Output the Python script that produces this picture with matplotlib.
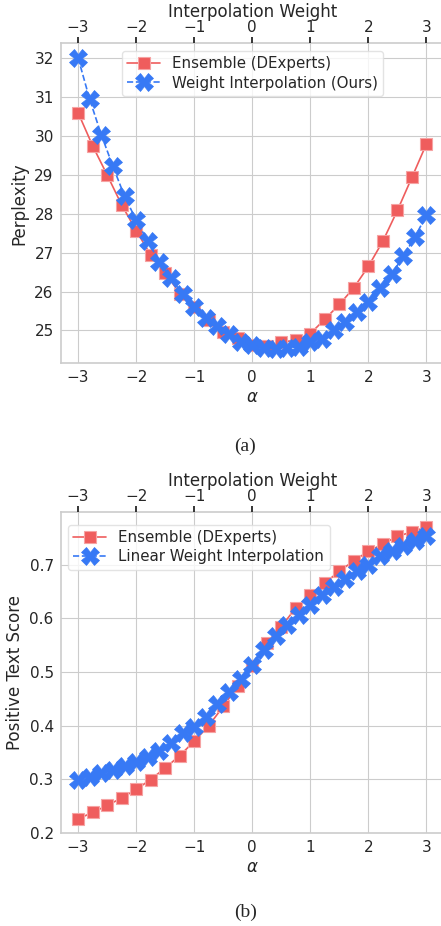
import matplotlib
matplotlib.use("Agg")
import matplotlib.pyplot as plt
import seaborn as sns

# ---- data ----
alpha_ens = [-3.0, -2.75, -2.5, -2.25, -2.0, -1.75, -1.5, -1.25, -1.0, -0.75, -0.5, -0.25,
             0.0, 0.25, 0.5, 0.75, 1.0, 1.25, 1.5, 1.75, 2.0, 2.25, 2.5, 2.75, 3.0]
alpha_wi = [-3.0, -2.8, -2.6, -2.4, -2.2, -2.0, -1.8, -1.6, -1.4, -1.2, -1.0, -0.8, -0.6, -0.4,
            -0.2, 0.0, 0.2, 0.4, 0.6, 0.8, 1.0, 1.2, 1.4, 1.6, 1.8, 2.0, 2.2, 2.4, 2.6, 2.8, 3.0]

ppl_ens = [30.6, 29.75, 29.0, 28.23, 27.57, 26.94, 26.49, 25.95, 25.6, 25.28, 24.97, 24.8,
           24.62, 24.6, 24.7, 24.75, 24.92, 25.29, 25.67, 26.1, 26.65, 27.3, 28.09, 28.94, 29.8]
ppl_wi = [32.01, 30.94, 30.03, 29.22, 28.45, 27.84, 27.29, 26.77, 26.34, 25.93, 25.61, 25.31,
          25.11, 24.92, 24.71, 24.62, 24.54, 24.53, 24.55, 24.58, 24.7, 24.79, 25.0, 25.22,
          25.48, 25.74, 26.08, 26.44, 26.91, 27.4, 27.97]

pos_ens = [0.226, 0.238, 0.251, 0.265, 0.281, 0.2995, 0.321, 0.344, 0.371, 0.400, 0.436, 0.474,
           0.512, 0.5545, 0.585, 0.62, 0.6445, 0.6665, 0.688, 0.708, 0.7254, 0.739, 0.7534,
           0.7616, 0.771]
pos_wi = [0.299, 0.305, 0.311, 0.317, 0.324, 0.332, 0.341, 0.352, 0.368, 0.386, 0.398, 0.417,
          0.44, 0.463, 0.488, 0.514, 0.542, 0.567, 0.587, 0.607, 0.626, 0.643, 0.658, 0.674,
          0.688, 0.7006, 0.716, 0.7267, 0.7347, 0.744, 0.7534]

top_ticks = [-3, -2, -1, 0, 1, 2, 3]

RED = "#ef5d5d"
BLUE = "#3779f5"

sns.set_style("whitegrid")
plt.rcParams["font.family"] = ["DejaVu Sans"]


def panel(ax, y_ens, y_wi, ylabel, wi_label, legend_anchor):
    ax.plot(alpha_ens, y_ens, color=RED, marker="s", markersize=8, lw=1.2,
            markeredgecolor="#f6a3a3", markeredgewidth=0.8, label="Ensemble (DExperts)")
    ax.plot(alpha_wi, y_wi, color=BLUE, marker="X", markersize=12.5, lw=1.2, ls="--",
            markeredgecolor=BLUE, markeredgewidth=0.5, label=wi_label)
    ax.set_xticks(top_ticks)
    ax.set_xlabel(r"$\alpha$", fontsize=12, color=".15", labelpad=2)
    ax.set_ylabel(ylabel, fontsize=12, color=".15")
    ax.tick_params(labelsize=11, colors=".15", length=0, pad=5)
    for s in ax.spines.values():
        s.set_color("#cccccc")
        s.set_linewidth(1.2)
    ax.spines["right"].set_visible(False)
    leg = ax.legend(loc="upper left", bbox_to_anchor=legend_anchor, fontsize=10.8,
                    frameon=True, handlelength=2.2, borderpad=0.35, labelspacing=0.3)
    leg.get_frame().set_edgecolor("#dddddd")

    # secondary x axis on top
    ax2 = ax.twiny()
    ax2.set_xlim(ax.get_xlim())
    ax2.set_xticks(top_ticks)
    ax2.grid(False)
    ax2.tick_params(axis="x", labelsize=11, colors=".15", length=4, width=1.3, pad=2,
                    top=True, direction="out")
    ax2.set_xlabel("Interpolation Weight", fontsize=12, color=".15", labelpad=2)
    for s in ax2.spines.values():
        s.set_visible(False)
    return ax2


fig = plt.figure(figsize=(4.41, 9.26), dpi=100)

ax_a = fig.add_axes([0.1376, 0.6077, 0.869, 0.3455])
panel(ax_a, ppl_ens, ppl_wi, "Perplexity", "Weight Interpolation (Ours)", (0.14, 1.0))

ax_b = fig.add_axes([0.1376, 0.0999, 0.869, 0.3469])
panel(ax_b, pos_ens, pos_wi, "Positive Text Score", "Linear Weight Interpolation",
      (0.0, 0.985))
ax_b.set_yticks([0.2, 0.3, 0.4, 0.5, 0.6, 0.7])

fig.text(0.556, 1 - 446 / 926, "(a)", fontsize=14, family="Liberation Serif",
         ha="center", va="center")
fig.text(0.556, 1 - 912 / 926, "(b)", fontsize=14, family="Liberation Serif",
         ha="center", va="center")

fig.savefig("out.png", dpi=100)
plt.close(fig)
